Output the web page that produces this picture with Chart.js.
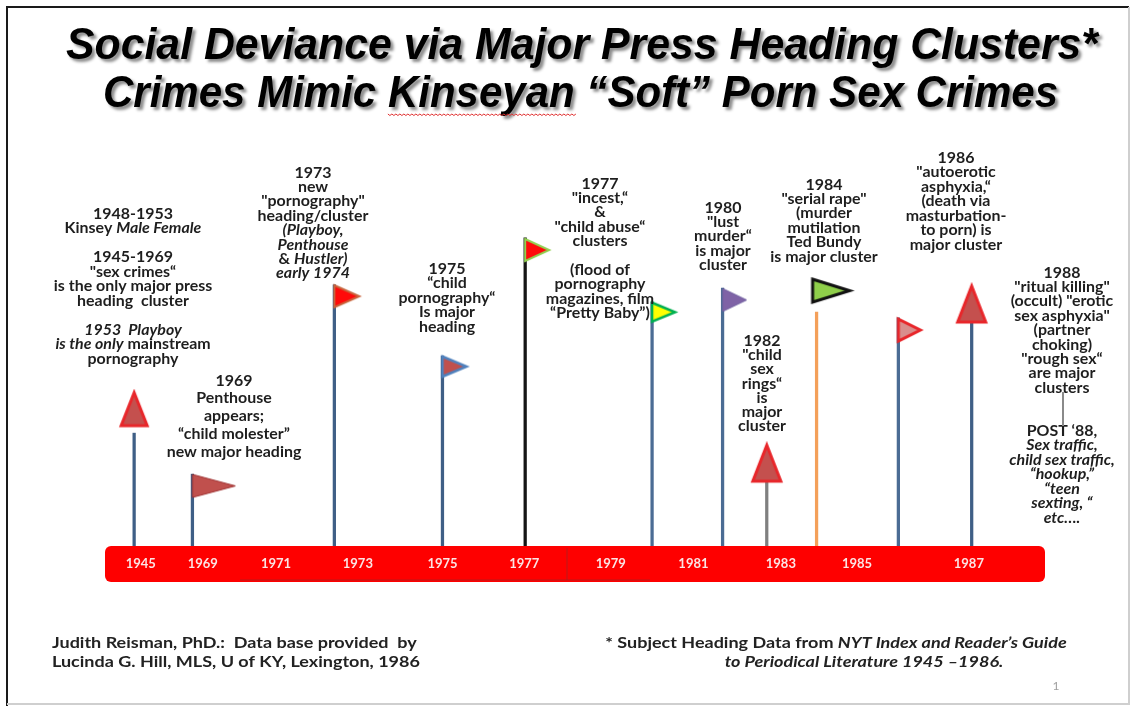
<!DOCTYPE html>
<html><head><meta charset="utf-8">
<script src="https://cdn.jsdelivr.net/npm/chart.js@4.4.0/dist/chart.umd.min.js"></script>
<style>html,body{margin:0;padding:0;background:#fff;}canvas{display:block}</style>
</head><body>
<canvas id="c" width="1135" height="706"></canvas>
<script>
// ---------- DATA ----------
const tickLabels    = ['1945','1969','1971','1973','1975','1977','1979','1981','1983','1985','1987'];
const tickPositions = [3.8, 10.4, 18.2, 26.9, 35.9, 44.6, 53.8, 62.6, 71.9, 80.0, 91.9];
const eventYears    = ['1945','1969','1973','1975','1977','1979','1980','1982','1984','1986','1987'];
const polePositions = [3.1, 9.3, 24.4, 35.9, 44.7, 58.2, 65.7, 70.4, 75.7, 84.4, 92.2];
const poleHeights   = [27.8, 17.7, 64.3, 46.8, 75.9, 60.1, 63.5, 15.8, 57.6, 56.2, 54.9];
const flagHeights   = [33.7, 14.8, 61.5, 44.2, 72.9, 57.6, 60.6, 20.4, 62.9, 53.2, 59.6];

const noteTexts = [
  ['1948-1953','Kinsey _Male Female_','','1945-1969','"sex crimes“','is the only major press','heading  cluster','','_1953  Playboy_','_is the only_ mainstream','pornography'],
  ['1969','Penthouse','appears;','“child molester”','new major heading'],
  ['1973','new','"pornography"','heading/cluster','_(Playboy,_','_Penthouse_','& _Hustler)_','_early 1974_'],
  ['1975','“child','pornography“','Is major','heading'],
  ['1977','"incest,“','&','"child abuse“','clusters','','(flood of','pornography','magazines, film','“Pretty Baby”)'],
  ['1980','"lust','murder“','is major','cluster'],
  ['1984','"serial rape"','(murder','mutilation','Ted Bundy','is major cluster'],
  ['1982','"child','sex','rings“','is','major','cluster'],
  ['1986','"autoerotic','asphyxia,“','(death via','masturbation-','to porn) is','major cluster'],
  ['1988','"ritual killing"','(occult) "erotic','sex asphyxia"','(partner','choking)','"rough sex“','are major','clusters'],
  ['POST ‘88,','_Sex traffic,_','_child sex traffic,_','_“hookup,”_','_“teen_','_sexting, “_','_etc…._']
];
const titleLines  = ['Social Deviance via Major Press Heading Clusters*', 'Crimes Mimic Kinseyan “Soft” Porn Sex Crimes'];
const footerLeft  = ['Judith Reisman, PhD.:  Data base provided  by', 'Lucinda G. Hill, MLS, U of KY, Lexington, 1986'];
const footerRight = ['* Subject Heading Data from _NYT Index and Reader’s Guide_', '_to Periodical Literature 1945 –1986._'];
const pageNumber  = '1';

// ---------- STYLE / LAYOUT ----------
const FONT = 'Lato, "Open Sans", sans-serif';
const poleColors = ['#3f5f86','#3f5f86','#3f5f86','#3f5f86','#151515','#4b6c94','#4b6c94','#808080','#f4a05a','#4b6c94','#3f5f86'];
const flagStyles = [
  {shape:'up',   fill:'#c4504e', stroke:'#e8262a', lw:3,   w:26, h:33},
  {shape:'right',fill:'#c0504d', stroke:'#9e3030', lw:1,   w:43, h:23},
  {shape:'right',fill:'#ff0a0a', stroke:'#c8643c', lw:2,   w:25, h:22},
  {shape:'right',fill:'#c0504d', stroke:'#4f81bd', lw:2.5, w:24, h:20},
  {shape:'right',fill:'#ff0a0a', stroke:'#92d050', lw:2,   w:24, h:22},
  {shape:'right',fill:'#ffff00', stroke:'#00b050', lw:2.5, w:23, h:19},
  {shape:'right',fill:'#7f63a6', stroke:'#7060a0', lw:1,   w:24, h:23},
  {shape:'up',   fill:'#c4504e', stroke:'#e8262a', lw:3,   w:28, h:36},
  {shape:'right',fill:'#8fcf4a', stroke:'#111111', lw:3,   w:37, h:23, dx:-4},
  {shape:'right',fill:'#d98e8c', stroke:'#e8262a', lw:3,   w:22, h:22},
  {shape:'up',   fill:'#c4504e', stroke:'#e8262a', lw:3,   w:28, h:36}
];
const NOTE_SIZE = 14.5, NOTE_SX = 1.1;
const noteLayout = [
  {cx:133, y:214, lh:14.5},
  {cx:234, y:381, lh:17.8},
  {cx:313, y:173, lh:14.4},
  {cx:447, y:269, lh:14.5},
  {cx:600, y:184, lh:14.4},
  {cx:723, y:208, lh:14.3},
  {cx:824, y:185, lh:14.4},
  {cx:762, y:341, lh:14.3},
  {cx:956, y:158, lh:14.5},
  {cx:1062,y:273, lh:14.4},
  {cx:1062,y:431, lh:14.5}
];

function makeFlag(s){
  const pad = 4, dx = s.dx || 0;
  const c = document.createElement('canvas');
  const g = c.getContext('2d');
  g.lineJoin = 'miter';
  if (s.shape === 'up') {
    c.width = s.w + pad*2; c.height = s.h + pad*2;
    g.beginPath();
    g.moveTo(c.width/2, pad);
    g.lineTo(pad + s.w, pad + s.h);
    g.lineTo(pad, pad + s.h);
    g.closePath();
  } else {
    c.width = (s.w + Math.abs(dx) + pad)*2; c.height = s.h + pad*2;
    const x0 = c.width/2 + dx;
    g.beginPath();
    g.moveTo(x0, pad);
    g.lineTo(x0 + s.w, pad + s.h/2);
    g.lineTo(x0, pad + s.h);
    g.closePath();
  }
  g.fillStyle = s.fill; g.fill();
  g.strokeStyle = s.stroke; g.lineWidth = s.lw; g.stroke();
  return c;
}
const flagImages = flagStyles.map(makeFlag);

// rich text: segments between '_' are italic; sx = horizontal stretch
function drawRich(ctx, line, x, y, size, align, sx){
  sx = sx || 1;
  const segs = line.split('_');
  const fonts = segs.map((s,i)=> (i%2 ? 'italic ' : '') + 'bold ' + size + 'px ' + FONT);
  let total = 0; const widths = [];
  segs.forEach((s,i)=>{ ctx.font = fonts[i]; const w = ctx.measureText(s).width; widths.push(w); total += w; });
  const start = align === 'left' ? x : x - total*sx/2;
  ctx.save();
  ctx.translate(start, y); ctx.scale(sx, 1);
  ctx.textAlign = 'left';
  let cx = 0;
  segs.forEach((s,i)=>{ ctx.font = fonts[i]; ctx.fillText(s, cx, 0); cx += widths[i]; });
  ctx.restore();
}

const decorPlugin = {
  id:'decor',
  beforeDraw(chart){
    const ctx = chart.ctx, a = chart.chartArea;
    ctx.save();
    ctx.fillStyle = '#fff'; ctx.fillRect(0,0,chart.width,chart.height);
    // frame
    ctx.strokeStyle = '#1a1a1a'; ctx.lineWidth = 2;
    ctx.beginPath(); ctx.moveTo(7,706); ctx.lineTo(7,7); ctx.lineTo(1129,7); ctx.stroke();
    ctx.strokeStyle = '#cfcfcf';
    ctx.beginPath(); ctx.moveTo(1129,7); ctx.lineTo(1129,704); ctx.lineTo(7,704); ctx.stroke();
    // red timeline bar
    const top = a.bottom, h = 36;
    ctx.fillStyle = '#fe0000';
    ctx.beginPath(); ctx.roundRect(a.left, top, a.right - a.left, h, 6); ctx.fill();
    ctx.strokeStyle = 'rgba(150,40,40,0.45)'; ctx.lineWidth = 1.5;
    ctx.beginPath(); ctx.moveTo(240, top + h - 2); ctx.lineTo(650, top + h - 2); ctx.stroke();
    ctx.beginPath(); ctx.moveTo(567, top + 2); ctx.lineTo(567, top + h - 2); ctx.stroke();
    ctx.restore();
  },
  afterDraw(chart){
    const ctx = chart.ctx;
    ctx.save();
    // title
    ctx.font = 'italic bold 44px "Liberation Sans", Arial, sans-serif';
    ctx.fillStyle = '#000';
    ctx.shadowColor = 'rgba(0,0,0,0.45)'; ctx.shadowOffsetX = 3; ctx.shadowOffsetY = 3; ctx.shadowBlur = 3;
    ctx.textAlign = 'left'; ctx.textBaseline = 'alphabetic';
    const tl = [{x:66, w:1032, y:59},{x:103, w:955, y:107}];
    titleLines.forEach((t,i)=>{
      const nat = ctx.measureText(t).width;
      const f = tl[i].w / nat;
      ctx.save();
      ctx.translate(tl[i].x, tl[i].y); ctx.scale(f, 1);
      ctx.fillText(t, 0, 0);
      ctx.restore();
      if (i === 1) {
        ctx.save();
        ctx.shadowColor = 'transparent';
        const pre = ctx.measureText('Crimes Mimic ').width * f;
        const kw = ctx.measureText('Kinseyan').width * f;
        const sx = tl[i].x + pre, sy = tl[i].y + 7;
        ctx.strokeStyle = '#e03030'; ctx.lineWidth = 1;
        ctx.beginPath(); ctx.moveTo(sx, sy);
        for (let x = sx, k = 0; x < sx + kw; x += 2, k++) ctx.lineTo(x + 2, sy + (k % 2 ? 0 : 1.5));
        ctx.stroke();
        ctx.restore();
      }
    });
    ctx.shadowColor = 'transparent';
    // notes
    ctx.fillStyle = '#1e1e1e'; ctx.textBaseline = 'middle';
    noteTexts.forEach((lines, n)=>{
      const L = noteLayout[n];
      lines.forEach((ln, j)=>{ if (ln) drawRich(ctx, ln, L.cx, L.y + j*L.lh, NOTE_SIZE, 'center', NOTE_SX); });
    });
    // connector between 1988 note and POST '88
    ctx.strokeStyle = '#8a8a8a'; ctx.lineWidth = 2;
    ctx.beginPath(); ctx.moveTo(1063, 392); ctx.lineTo(1063, 426); ctx.stroke();
    // footer
    ctx.fillStyle = '#222'; ctx.textBaseline = 'middle';
    footerLeft.forEach((t,i)=> drawRich(ctx, t, 52, 643 + i*19, 15, 'left', 1.2));
    footerRight.forEach((t,i)=> drawRich(ctx, t, [836,864][i], 643 + i*19, 15, 'center', 1.2));
    ctx.fillStyle = '#a0a0a0'; ctx.font = '12px ' + FONT; ctx.textAlign = 'center';
    ctx.fillText(pageNumber, 1056, 686);
    ctx.restore();
  }
};

new Chart(document.getElementById('c'), {
  type: 'bar',
  data: {
    datasets: [
      {
        type: 'scatter',
        label: 'Heading clusters',
        data: polePositions.map((x,i)=>({x, y: flagHeights[i], year: eventYears[i]})),
        pointStyle: flagImages,
        pointRadius: 6,
        order: 0
      },
      {
        type: 'bar',
        label: 'Poles',
        data: polePositions.map((x,i)=>({x, y: poleHeights[i]})),
        backgroundColor: poleColors,
        borderWidth: 0,
        barThickness: 2.6,
        grouped: false,
        order: 1
      }
    ]
  },
  options: {
    responsive: false,
    devicePixelRatio: 1,
    animation: false,
    events: [],
    layout: { padding: {left:105, right:90, top:140, bottom:124}, autoPadding: false },
    plugins: { legend:{display:false}, tooltip:{enabled:false}, title:{display:false} },
    scales: {
      x: {
        type: 'linear', min: 0, max: 100, offset: false,
        grid: {display:false, drawTicks:false}, border: {display:false},
        afterBuildTicks: s => { s.ticks = tickPositions.map(v=>({value:v})); },
        afterFit: s => { s.height = 36; },
        ticks: {
          autoSkip: false, maxRotation: 0, padding: 10,
          color: '#fbe4e4', font: {family: FONT, size: 13, weight: 'bold'},
          callback: (v, i) => tickLabels[i]
        }
      },
      y: { display: false, min: 0, max: 100 }
    }
  },
  plugins: [decorPlugin]
});
</script>
</body></html>
